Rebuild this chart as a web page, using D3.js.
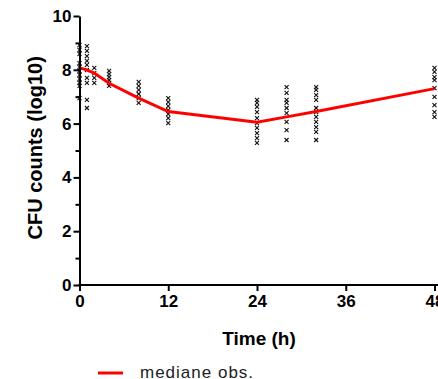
<!DOCTYPE html>
<html><head><meta charset="utf-8">
<script src="https://cdn.jsdelivr.net/npm/d3@7"></script>
<style>
html,body{margin:0;padding:0;background:#fff;}
svg{display:block;}
</style></head>
<body>
<svg id="chart" width="438" height="379"></svg>
<script>
// ---- data ----
const xTicks = [0, 12, 24, 36, 48];
const yTicks = [0, 2, 4, 6, 8, 10];
const yMinorTicks = [1, 3, 5, 7, 9];
const medianTimes = [0, 1, 2, 4, 8, 12, 24, 28, 32, 48];
const medianValues = [8.07, 8.0, 7.88, 7.5, 6.95, 6.45, 6.05, 6.25, 6.45, 7.3];
const obsTimes = [0, 1, 2, 4, 8, 12, 24, 28, 32, 48];
const obsValues = [
  [8.92, 8.74, 8.59, 8.25, 8.1, 7.96, 7.81, 7.66, 7.51, 7.4, 6.95],
  [8.88, 8.7, 8.51, 8.33, 8.18, 7.99, 7.7, 7.51, 6.88, 6.58],
  [8.07, 7.88, 7.7, 7.51],
  [7.96, 7.84, 7.73, 7.62, 7.51, 7.4],
  [7.55, 7.4, 7.25, 7.1, 6.95, 6.77],
  [6.95, 6.8, 6.65, 6.5, 6.35, 6.2, 6.02],
  [6.88, 6.77, 6.62, 6.43, 6.2, 6.02, 5.84, 5.65, 5.46, 5.28],
  [7.36, 7.14, 6.88, 6.77, 6.58, 6.39, 6.06, 5.76, 5.39],
  [7.36, 7.25, 7.06, 6.88, 6.58, 6.43, 6.25, 6.06, 5.87, 5.69, 5.39],
  [8.07, 7.92, 7.73, 7.62, 7.32, 6.99, 6.69, 6.43, 6.25]
];
const xTitle = "Time (h)";
const yTitle = "CFU counts (log10)";
const legendLabel = "mediane obs.";

// ---- chart ----
const svg = d3.select("#chart");
const x = d3.scaleLinear().domain([0, 48]).range([79.5, 434.5]);
const y = d3.scaleLinear().domain([0, 10]).range([285, 16]);
const font = "'Liberation Sans', Arial, Helvetica, sans-serif";

// observations (x markers)
const obs = [];
obsTimes.forEach((t, i) => obsValues[i].forEach(v => obs.push({t, v})));
const s = 2;
svg.append("g").selectAll("path").data(obs).join("path")
  .attr("d", d => {
    const cx = x(d.t), cy = y(d.v);
    return `M${cx - s},${cy - s}L${cx + s},${cy + s}M${cx - s},${cy + s}L${cx + s},${cy - s}`;
  })
  .attr("stroke", "#111").attr("stroke-width", 1.1).attr("fill", "none");

// median line
svg.append("path")
  .datum(medianTimes.map((t, i) => [t, medianValues[i]]))
  .attr("d", d3.line().x(d => x(d[0])).y(d => y(d[1])))
  .attr("fill", "none").attr("stroke", "#ff0000").attr("stroke-width", 3);

// y axis
const yAxis = svg.append("g").attr("transform", "translate(79.5,0)")
  .call(d3.axisLeft(y).tickValues(yTicks).tickSize(6).tickSizeOuter(0).tickPadding(2).tickFormat(d3.format("d")));
yAxis.select(".domain").attr("stroke", "#000").attr("stroke-width", 2);
yAxis.selectAll(".tick line").attr("stroke", "#000").attr("stroke-width", 2);
yAxis.selectAll(".tick text").attr("font-family", font).attr("font-weight", "bold").attr("font-size", 17).attr("fill", "#000");
svg.append("g").attr("transform", "translate(79.5,0)")
  .call(d3.axisLeft(y).tickValues(yMinorTicks).tickSize(4).tickSizeOuter(0).tickFormat(""))
  .call(g => g.select(".domain").remove())
  .selectAll(".tick line").attr("stroke", "#000").attr("stroke-width", 2);

// x axis
const xAxis = svg.append("g").attr("transform", "translate(0,285)")
  .call(d3.axisBottom(x).tickValues(xTicks).tickSize(6).tickSizeOuter(0).tickPadding(4).tickFormat(d3.format("d")));
xAxis.select(".domain").attr("d", `M${x(0) - 1},0H438`).attr("stroke", "#000").attr("stroke-width", 2);
xAxis.selectAll(".tick line").attr("stroke", "#000").attr("stroke-width", 2);
xAxis.selectAll(".tick text").attr("font-family", font).attr("font-weight", "bold").attr("font-size", 17).attr("fill", "#000");

// titles
svg.append("text").attr("x", (x(0) + x(48)) / 2 + 2).attr("y", 345)
  .attr("text-anchor", "middle").attr("font-family", font).attr("font-weight", "bold")
  .attr("font-size", 19).attr("fill", "#000").text(xTitle);
svg.append("text").attr("transform", `translate(42,${y(5.1)}) rotate(-90)`)
  .attr("text-anchor", "middle").attr("font-family", font).attr("font-weight", "bold")
  .attr("font-size", 20).attr("fill", "#000").text(yTitle);

// legend
svg.append("line").attr("x1", 98).attr("x2", 123).attr("y1", 373).attr("y2", 373)
  .attr("stroke", "#ff0000").attr("stroke-width", 3);
svg.append("text").attr("x", 140).attr("y", 378).attr("font-family", font)
  .attr("font-size", 17).attr("letter-spacing", 1).attr("fill", "#222").text(legendLabel);
</script>
</body></html>
